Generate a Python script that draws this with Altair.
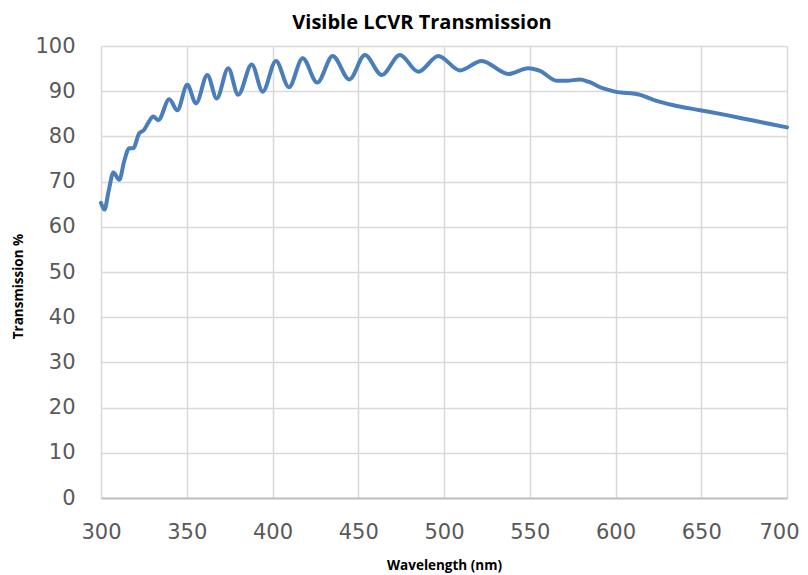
import altair as alt
import pandas as pd

wavelength = [300, 302, 304.5, 307.2, 310.7, 313.5, 316.5, 318.8, 322.3, 325, 327.5,
              330.5, 333.4, 339.8, 344.5, 350.3, 355.4, 362, 367.5, 374.2, 380,
              387.9, 394.3, 402, 409.6, 417.6, 426.1, 435.1, 444.8, 453.9, 463.7,
              474.3, 485, 496.7, 509.3, 522, 537.5, 549.1, 556, 565.7, 571.5,
              579.3, 584.2, 592.9, 599.7, 614.3, 622.1, 633.8, 649.3, 664.8, 680.3, 700]
transmission = [65.3, 63.8, 68.0, 72.0, 70.4, 74.5, 77.4, 77.4, 80.7, 81.4, 83.0,
                84.4, 83.6, 88.2, 85.8, 91.4, 87.3, 93.6, 88.4, 95.1, 89.2,
                95.9, 89.9, 96.7, 90.9, 97.3, 91.9, 97.8, 92.6, 98.0, 93.6,
                98.0, 94.3, 97.8, 94.6, 96.7, 93.8, 95.1, 94.5, 92.3, 92.3,
                92.6, 92.1, 90.6, 89.9, 89.2, 88.1, 86.9, 85.8, 84.7, 83.5, 82.0]

x_ticks = [300, 350, 400, 450, 500, 550, 600, 650, 700]
y_ticks = [0, 10, 20, 30, 40, 50, 60, 70, 80, 90, 100]

df = pd.DataFrame({"wl": wavelength, "t": transmission})

last_label = "datum.value == 700"

chart = alt.Chart(df).mark_line(
    color="#4a7ebb", strokeWidth=4, interpolate="monotone", strokeCap="round"
).encode(
    x=alt.X("wl:Q", scale=alt.Scale(domain=[300, 700], nice=False),
            axis=alt.Axis(values=x_ticks, title="Wavelength (nm)", ticks=False,
                          labelPadding=23, labelFlush=False, titleY=67,
                          titleBaseline="middle",
                          labelAlign={"condition": {"test": last_label, "value": "right"},
                                      "value": "center"},
                          labelOffset={"condition": {"test": last_label, "value": 12},
                                       "value": 0},
                          domain=True, domainColor="#bfbfbf", domainWidth=2)),
    y=alt.Y("t:Q", scale=alt.Scale(domain=[0, 100], nice=False),
            axis=alt.Axis(values=y_ticks, title="Transmission %", ticks=False,
                          labelPadding=26, labelFlush=False, domain=False,
                          titleX=-83, titleY=240,
                          titleBaseline="middle", titleAngle=270)),
).properties(
    width=686, height=452,
    autosize=alt.AutoSizeParams(type="none"),
    padding={"left": 93, "top": 38, "right": 13, "bottom": 75},
    title=alt.TitleParams("Visible LCVR Transmission", font="Open Sans", fontSize=20,
                          fontWeight="bold", color="black", anchor="middle",
                          frame="group", dx=-22, offset=2),
).configure_view(stroke=None).configure_axis(
    gridColor="#d9d9d9", gridWidth=1.5, labelFont="DejaVu Sans", labelFontSize=21,
    labelColor="#595959", titleFont="Open Sans", titleFontSize=13.5,
    titleFontWeight="bold", titleColor="black"
)

chart.save("out.html", embed_options={"renderer": "svg", "actions": False})
